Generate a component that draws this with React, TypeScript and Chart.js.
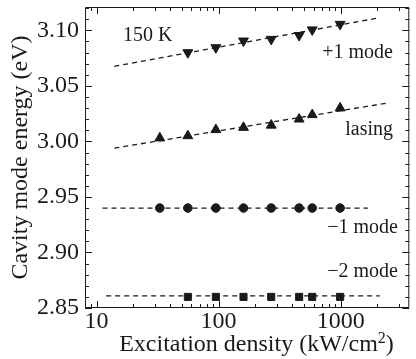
import React, { useEffect, useRef } from 'react';
import { Chart, registerables } from 'chart.js';

Chart.register(...registerables);

// ---- data ----
const excitationAll = [33, 56, 95, 160, 270, 457, 585, 990];
const excitationFrom56 = [56, 95, 160, 270, 457, 585, 990];
const plusOneMode = [3.08, 3.0845, 3.0905, 3.092, 3.0955, 3.1005, 3.1055];
const lasingMode = [3.003, 3.005, 3.0105, 3.0125, 3.0145, 3.02, 3.024, 3.03];
const minusOneMode = [2.94, 2.94, 2.94, 2.94, 2.94, 2.94, 2.94, 2.94];
const minusTwoMode = [2.86, 2.86, 2.86, 2.86, 2.86, 2.86, 2.86];

const plusOneFitX = [14, 2000];
const plusOneFitY = [3.0676, 3.111];
const lasingFitX = [14, 2420];
const lasingFitY = [2.9939, 3.0346];
const minusOneFitX = [11.2, 1670];
const minusOneFitY = [2.94, 2.94];
const minusTwoFitX = [12, 2090];
const minusTwoFitY = [2.861, 2.861];

const xTicks = [10, 100, 1000];
const yTicks = [2.85, 2.9, 2.95, 3.0, 3.05, 3.1];

const yTitle = 'Cavity mode energy (eV)';
const xTitleMain = 'Excitation density (kW/cm';
const xTitleSup = '2';
const xTitleEnd = ')';
const labelTemp = '150 K';
const labelPlusOne = '+1 mode';
const labelLasing = 'lasing';
const labelMinusOne = '\u22121 mode';
const labelMinusTwo = '\u22122 mode';

const FONT = "'Liberation Serif', serif";
const INK = '#1a1a1a';

Chart.defaults.font.family = FONT;
Chart.defaults.color = INK;

const zip = (xs: number[], ys: number[]) => xs.map((x, i) => ({ x, y: ys[i] }));

const frameTicks = {
  id: 'frameTicks',
  afterDraw(chart: any) {
    const { ctx, chartArea, scales } = chart;
    const { left, right, top, bottom } = chartArea;
    const x = scales.x;
    const y = scales.y;
    ctx.save();
    ctx.strokeStyle = INK;
    ctx.lineWidth = 1;
    ctx.beginPath();
    ctx.rect(left + 0.5, top + 0.5, right - left - 1, bottom - top - 1);
    ctx.stroke();

    ctx.beginPath();
    for (let e = 0; e <= 4; e++) {
      for (let m = 1; m <= 9; m++) {
        const v = m * Math.pow(10, e);
        if (v < x.min || v > x.max) continue;
        const px = Math.round(x.getPixelForValue(v)) + 0.5;
        const len = m === 1 ? 7 : 4;
        ctx.moveTo(px, bottom);
        ctx.lineTo(px, bottom - len);
        ctx.moveTo(px, top);
        ctx.lineTo(px, top + len);
      }
    }
    for (let i = 0; ; i++) {
      const v = 2.85 + i * 0.01;
      if (v > y.max + 1e-9) break;
      const py = Math.round(y.getPixelForValue(v)) + 0.5;
      const len = i % 5 === 0 ? 7 : 4;
      ctx.moveTo(left, py);
      ctx.lineTo(left + len, py);
      ctx.moveTo(right, py);
      ctx.lineTo(right - len, py);
    }
    ctx.stroke();

    // x axis title with superscript
    ctx.fillStyle = INK;
    ctx.textBaseline = 'alphabetic';
    ctx.textAlign = 'left';
    const mainFont = `24px ${FONT}`;
    const supFont = `16px ${FONT}`;
    ctx.font = mainFont;
    const w1 = ctx.measureText(xTitleMain).width;
    const w3 = ctx.measureText(xTitleEnd).width;
    ctx.font = supFont;
    const w2 = ctx.measureText(xTitleSup).width;
    const cx = 256.5;
    const base = 351;
    let sx = cx - (w1 + w2 + w3) / 2;
    ctx.font = mainFont;
    ctx.fillText(xTitleMain, sx, base);
    sx += w1;
    ctx.font = supFont;
    ctx.fillText(xTitleSup, sx, base - 8);
    sx += w2;
    ctx.font = mainFont;
    ctx.fillText(xTitleEnd, sx, base);

    // annotations
    ctx.font = `20px ${FONT}`;
    ctx.textAlign = 'left';
    ctx.fillText(labelTemp, 123, 41);
    ctx.textAlign = 'right';
    ctx.fillText(labelPlusOne, 393, 58);
    ctx.fillText(labelLasing, 393, 135);
    ctx.fillText(labelMinusOne, 398, 233);
    ctx.fillText(labelMinusTwo, 398, 277);
    ctx.restore();
  },
};

const fitStyle = {
  showLine: true,
  borderColor: INK,
  borderWidth: 1.3,
  borderDash: [5, 4],
  pointRadius: 0,
  fill: false,
};

export default function App() {
  const ref = useRef<HTMLCanvasElement>(null);
  useEffect(() => {
    const tickFont = { family: FONT, size: 24 };
    const chart = new Chart(ref.current as HTMLCanvasElement, {
      type: 'scatter',
      data: {
        datasets: [
          { ...fitStyle, data: zip(plusOneFitX, plusOneFitY) },
          { ...fitStyle, data: zip(lasingFitX, lasingFitY) },
          { ...fitStyle, data: zip(minusOneFitX, minusOneFitY) },
          { ...fitStyle, data: zip(minusTwoFitX, minusTwoFitY) },
          {
            data: zip(excitationFrom56, plusOneMode),
            pointStyle: 'triangle',
            rotation: 180,
            pointRadius: 5.7,
            backgroundColor: INK,
            borderColor: INK,
            borderWidth: 1,
          },
          {
            data: zip(excitationAll, lasingMode),
            pointStyle: 'triangle',
            pointRadius: 5.7,
            backgroundColor: INK,
            borderColor: INK,
            borderWidth: 1,
          },
          {
            data: zip(excitationAll, minusOneMode),
            pointStyle: 'circle',
            pointRadius: 4.3,
            backgroundColor: INK,
            borderColor: INK,
            borderWidth: 1,
          },
          {
            data: zip(excitationFrom56, minusTwoMode),
            pointStyle: 'rect',
            pointRadius: 5,
            backgroundColor: INK,
            borderColor: INK,
            borderWidth: 1,
          },
        ] as any,
      },
      options: {
        animation: false,
        responsive: false,
        devicePixelRatio: 1,
        layout: { padding: { top: 7, right: 1, left: 0, bottom: 0 } },
        plugins: { legend: { display: false }, tooltip: { enabled: false } },
        scales: {
          x: {
            type: 'logarithmic',
            min: 8.05,
            max: 3650,
            grid: { display: false, drawTicks: false },
            border: { display: false },
            afterBuildTicks: (s: any) => {
              s.ticks = xTicks.map((v) => ({ value: v }));
            },
            afterFit: (s: any) => {
              s.height = 51;
              s.paddingLeft = 0;
              s.paddingRight = 0;
            },
            ticks: {
              font: tickFont,
              color: INK,
              padding: -1,
              maxRotation: 0,
              autoSkip: false,
              callback: (v: any) => String(v),
            },
          },
          y: {
            type: 'linear',
            min: 2.85,
            max: 3.121,
            grid: { display: false, drawTicks: false },
            border: { display: false },
            afterBuildTicks: (s: any) => {
              s.ticks = yTicks.map((v) => ({ value: v }));
            },
            afterFit: (s: any) => {
              s.width = 85;
              s.paddingTop = 0;
              s.paddingBottom = 0;
            },
            ticks: {
              font: tickFont,
              color: INK,
              padding: 6,
              callback: (v: any) => Number(v).toFixed(2),
            },
            title: {
              display: true,
              text: yTitle,
              color: INK,
              font: { family: FONT, size: 24 },
              padding: { top: 6, bottom: 0 },
            },
          },
        },
      } as any,
      plugins: [frameTicks],
    });
    return () => chart.destroy();
  }, []);
  return (
    <div style={{ position: 'fixed', left: 0, top: 0, width: 416, height: 359, background: '#fff' }}>
      <canvas ref={ref} width={416} height={359} style={{ display: 'block' }} />
    </div>
  );
}
